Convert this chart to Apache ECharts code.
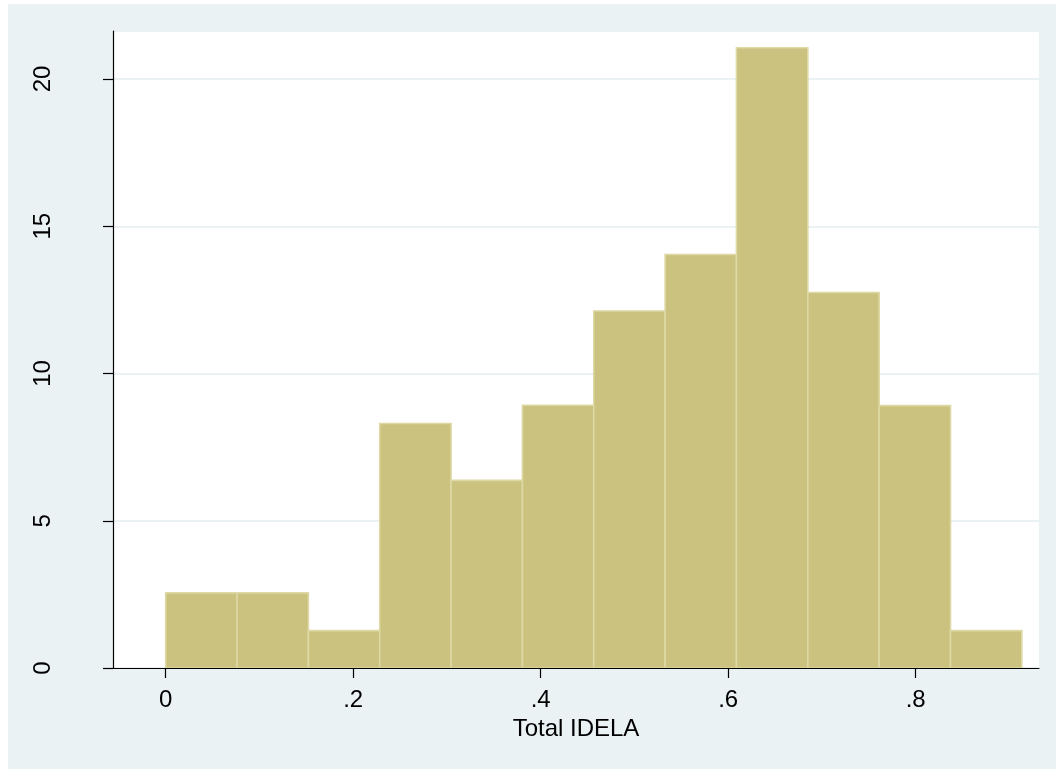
<!DOCTYPE html>
<html>
<head>
<meta charset="utf-8">
<script src="https://cdn.jsdelivr.net/npm/echarts@6/dist/echarts.min.js"></script>
<style>
  html, body { margin: 0; padding: 0; background: #eaf2f3; overflow: hidden; width: 1056px; height: 769px; }
  #chart { position: absolute; left: 8px; top: 4px; width: 1048px; height: 765px; }
  #stripTop { position: absolute; left: 0; top: 0; width: 1056px; height: 4px; background: #ffffff; }
  #stripLeft { position: absolute; left: 0; top: 0; width: 8px; height: 769px; background: #ffffff; }
</style>
</head>
<body>
<div id="stripTop"></div>
<div id="stripLeft"></div>
<div id="chart"></div>
<script>
// Histogram bins (left and right edges) and densities
const binLeft  = [0, 0.0761, 0.1522, 0.2283, 0.3044, 0.3805, 0.4566, 0.5327, 0.6088, 0.6849, 0.7610, 0.8371];
const binRight = [0.0761, 0.1522, 0.2283, 0.3044, 0.3805, 0.4566, 0.5327, 0.6088, 0.6849, 0.7610, 0.8371, 0.9132];
const density  = [2.55, 2.55, 1.27, 8.30, 6.37, 8.92, 12.12, 14.04, 21.06, 12.75, 8.91, 1.27];

const xTicks = [0, 0.2, 0.4, 0.6, 0.8];
const xTickLabels = ['0', '.2', '.4', '.6', '.8'];
const yTicks = [0, 5, 10, 15, 20];
const yTickLabels = ['0', '5', '10', '15', '20'];
const xTitle = 'Total IDELA';

const FONT = '"Liberation Sans", Arial, Helvetica, sans-serif';
const X_MIN = -0.0562, X_MAX = 0.9315;
const Y_MIN = 0, Y_MAX = 21.63;

const data = binLeft.map((l, i) => [l, binRight[i], density[i]]);

const chart = echarts.init(document.getElementById('chart'), null, { renderer: 'canvas' });
chart.setOption({
  backgroundColor: '#eaf2f3',
  animation: false,
  grid: {
    left: 105, right: 17, top: 27, bottom: 101,
    show: true, backgroundColor: '#ffffff', borderWidth: 0
  },
  xAxis: [{
    type: 'value', min: X_MIN, max: X_MAX, z: 10,
    name: xTitle, nameLocation: 'middle', nameGap: 42,
    nameTextStyle: { fontFamily: FONT, fontSize: 24, color: '#000' },
    axisLine: { show: true, onZero: false, lineStyle: { color: '#000', width: 1.2 } },
    axisTick: { show: true, length: 10, customValues: xTicks, lineStyle: { color: '#000', width: 1.2 } },
    axisLabel: {
      show: true, margin: 20, customValues: xTicks,
      fontFamily: FONT, fontSize: 24, color: '#000',
      formatter: v => { const i = xTicks.findIndex(t => Math.abs(t - v) < 1e-9); return i >= 0 ? xTickLabels[i] : ''; }
    },
    splitLine: { show: false }
  }],
  yAxis: [{
    type: 'value', min: Y_MIN, max: Y_MAX, z: 10,
    axisLine: { show: true, onZero: false, lineStyle: { color: '#000', width: 1.2 } },
    axisTick: { show: true, length: 10, customValues: yTicks, lineStyle: { color: '#000', width: 1.2 } },
    axisLabel: {
      show: true, margin: 58, rotate: 90, customValues: yTicks,
      fontFamily: FONT, fontSize: 24, color: '#000',
      formatter: v => { const i = yTicks.findIndex(t => Math.abs(t - v) < 1e-9); return i >= 0 ? yTickLabels[i] : ''; }
    },
    splitLine: { show: false }
  }, {
    type: 'value', min: Y_MIN, max: Y_MAX, interval: 5, z: 0, position: 'left',
    axisLine: { show: false }, axisTick: { show: false }, axisLabel: { show: false },
    splitLine: { show: true, lineStyle: { color: '#eaf2f3', width: 2 } }
  }],
  series: [{
    type: 'custom',
    xAxisIndex: 0, yAxisIndex: 0, z: 2,
    encode: { x: [0, 1], y: 2 },
    data: data,
    renderItem: (params, api) => {
      const p0 = api.coord([api.value(0), api.value(2)]);
      const p1 = api.coord([api.value(1), 0]);
      return {
        type: 'rect',
        shape: { x: p0[0], y: p0[1], width: p1[0] - p0[0], height: p1[1] - p0[1] },
        style: { fill: '#cac27e', stroke: '#ddd8a4', lineWidth: 1.6 }
      };
    }
  }]
});
</script>
</body>
</html>
